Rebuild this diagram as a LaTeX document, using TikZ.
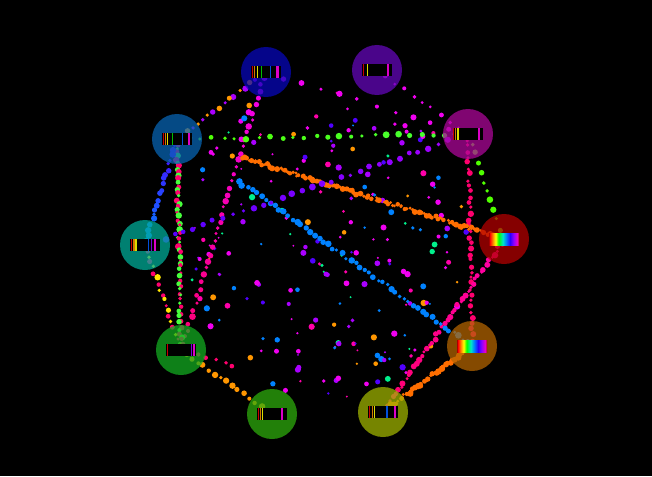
\documentclass[tikz,border=0pt]{standalone}
\usetikzlibrary{calc}
\pgfdeclarelayer{bgl}
\pgfdeclarelayer{dotl}
\pgfsetlayers{bgl,dotl,main}
% hub colours
\definecolor{nBlue}{RGB}{7,7,187}
\definecolor{nPur}{RGB}{100,7,187}
\definecolor{nMag}{RGB}{173,7,153}
\definecolor{nRed}{RGB}{180,0,0}
\definecolor{nBrn}{RGB}{180,100,0}
\definecolor{nOli}{RGB}{160,180,0}
\definecolor{nGrA}{RGB}{47,173,13}
\definecolor{nGrB}{RGB}{20,173,33}
\definecolor{nTea}{RGB}{0,173,153}
\definecolor{nTbl}{RGB}{7,100,180}
% dot colours
\definecolor{cM}{RGB}{240,0,240}
\definecolor{cV}{RGB}{170,0,255}
\definecolor{cB}{RGB}{80,0,255}
\definecolor{cA}{RGB}{0,130,255}
\definecolor{cO}{RGB}{255,150,0}
\definecolor{cOr}{RGB}{255,110,0}
\definecolor{cS}{RGB}{0,240,140}
\definecolor{cL}{RGB}{80,255,0}
\definecolor{cP}{RGB}{255,0,110}
\definecolor{cK}{RGB}{255,0,170}
\definecolor{cY}{RGB}{255,230,0}
\definecolor{cG}{RGB}{70,255,60}
% spectral line colours
\definecolor{sR}{RGB}{200,0,0}
\definecolor{sO}{RGB}{210,120,0}
\definecolor{sY}{RGB}{220,220,0}
\definecolor{sG}{RGB}{0,190,0}
\definecolor{sB}{RGB}{0,80,220}
\definecolor{sV}{RGB}{120,0,220}
\definecolor{sM}{RGB}{220,0,200}
% rainbow
\definecolor{rb0}{RGB}{170,0,0}
\definecolor{rb1}{RGB}{255,0,0}
\definecolor{rb2}{RGB}{255,150,0}
\definecolor{rb3}{RGB}{255,255,0}
\definecolor{rb4}{RGB}{0,255,0}
\definecolor{rb5}{RGB}{0,230,200}
\definecolor{rb6}{RGB}{0,120,255}
\definecolor{rb7}{RGB}{40,0,255}
\definecolor{rb8}{RGB}{140,0,255}
\definecolor{rb9}{RGB}{230,0,200}
\pgfdeclarehorizontalshading{rainbow}{100bp}{color(0bp)=(rb0); color(25bp)=(rb0); color(26.5bp)=(rb1); color(32bp)=(rb2); color(36bp)=(rb3); color(41bp)=(rb4); color(48bp)=(rb5); color(54bp)=(rb6); color(60bp)=(rb7); color(66bp)=(rb8); color(72bp)=(rb9); color(75bp)=(rb0); color(100bp)=(rb0)}
% gradient chain: from, to, n, colour A, colour B, radius
\newcommand\gchain[6]{%
  \foreach \ii in {1,...,#3}{%
    \pgfmathsetmacro\bT{\ii/(#3+1)}%
    \pgfmathtruncatemacro\bP{100*\bT}%
    \pgfmathsetmacro\bR{#6*(0.65+0.7*rnd)}%
    \pgfmathsetmacro\bX{1.5*rand}\pgfmathsetmacro\bY{1.5*rand}%
    \fill[#5!\bP!#4] ($(#1)!\bT!(#2)+(\bX,\bY)$) circle[radius=\bR];
  }}
% alternating chain
\newcommand\achain[6]{%
  \foreach \ii in {1,...,#3}{%
    \pgfmathsetmacro\bT{\ii/(#3+1)}%
    \pgfmathsetmacro\bR{#6*(0.65+0.7*rnd)}%
    \pgfmathsetmacro\bX{1.5*rand}\pgfmathsetmacro\bY{1.5*rand}%
    \ifodd\ii\def\bC{#4}\else\def\bC{#5}\fi
    \fill[\bC] ($(#1)!\bT!(#2)+(\bX,\bY)$) circle[radius=\bR];
  }}
\newcommand\spbar[1]{\fill[black] ($(#1)+(-15,-6)$) rectangle ($(#1)+(15,6)$);}
\newcommand\sline[4]{\fill[#3] ($(#1)+(-15+#2,-6)$) rectangle ($(#1)+(-15+#2+#4,6)$);}
\tikzset{hub/.style={circle,minimum size=50,inner sep=0,draw=none,fill opacity=0.74}}
\begin{document}
\begin{tikzpicture}[x=1pt,y=-1pt]
\begin{pgfonlayer}{bgl}
\fill[black] (0,0) rectangle (652,476);
\end{pgfonlayer}
\useasboundingbox (0,0) rectangle (652,476);
% hubs
\node[hub,fill=nBlue] (nb) at (266,72) {};
\node[hub,fill=nPur]  (np) at (377,70) {};
\node[hub,fill=nMag]  (nm) at (468,134) {};
\node[hub,fill=nRed]  (nr) at (504,239) {};
\node[hub,fill=nBrn]  (nn) at (472,346) {};
\node[hub,fill=nOli]  (no) at (383,412) {};
\node[hub,fill=nGrA]  (ng) at (272,414) {};
\node[hub,fill=nGrB]  (nh) at (181,350) {};
\node[hub,fill=nTea]  (nt) at (145,245) {};
\node[hub,fill=nTbl]  (nc) at (177,139) {};
\coordinate (o1) at (240,157);
\coordinate (o2) at (234,178);
\coordinate (hx) at (242,368);
\begin{pgfonlayer}{dotl}
\pgfmathsetseed{4242}
% random scattered dots
\foreach \k in {1,...,210}{%
  \pgfmathsetmacro\ang{360*rnd}%
  \pgfmathsetmacro\rad{sqrt(rnd)}%
  \pgfmathsetmacro\xx{327+145*\rad*cos(\ang)}%
  \pgfmathsetmacro\yy{240+160*\rad*sin(\ang)}%
  \pgfmathtruncatemacro\ci{mod(int(11*rnd),11)}%
  \pgfmathparse{{"cM","cM","cM","cV","cV","cB","cA","cA","cO","cS","cK"}[\ci]}\let\bC\pgfmathresult
  \pgfmathsetmacro\dr{1+2.2*rnd}%
  \fill[\bC] (\xx,\yy) circle[radius=\dr];
}
% chains
\gchain{nb}{nh}{40}{cM}{cP}{2.5}
\achain{nb}{nc}{16}{cO}{cV}{2.4}
\gchain{np}{nm}{9}{cM}{cM}{2.1}
\gchain{nb}{nm}{10}{cM}{cM}{2.4}
\gchain{nc}{nm}{24}{cL}{cG}{2.6}
\achain{nc}{nh}{62}{cG}{cP}{2.5}
\gchain{nc}{nt}{20}{cB}{cA}{2.5}
\achain{nt}{nh}{18}{cP}{cY}{2.4}
\gchain{nh}{ng}{15}{cO}{cO}{2.5}
\gchain{nh}{hx}{6}{cP}{cP}{2.4}
\gchain{nm}{nr}{10}{cL}{cL}{2.5}
\gchain{nm}{nn}{36}{cP}{cP}{2.5}
\gchain{nr}{no}{46}{cK}{cP}{2.4}
\gchain{nn}{no}{40}{cOr}{cOr}{2.4}
\gchain{o1}{nr}{110}{cOr}{cOr}{2.2}
\gchain{o2}{nn}{52}{cA}{cA}{2.5}
\gchain{nt}{nm}{32}{cB}{cV}{2.6}
\end{pgfonlayer}
% spectral bars
\spbar{nb}
\sline{nb}{0.7}{sR}{1.3}\sline{nb}{2.7}{sO}{1.3}\sline{nb}{6}{sY}{1.3}\sline{nb}{10}{sG}{1.3}\sline{nb}{18.7}{sB}{1.2}\sline{nb}{25}{sM}{2.5}
\spbar{np}
\sline{np}{0.7}{sR}{1.3}\sline{np}{4.5}{sY}{1.3}\sline{np}{25}{sM}{1.5}
\spbar{nm}
\sline{nm}{0}{sR}{1.3}\sline{nm}{2}{sO}{1.3}\sline{nm}{4}{sY}{1.5}\sline{nm}{25}{sM}{2}
\shade[shading=rainbow] ($(nr)+(-15,-6)$) rectangle ($(nr)+(15,6)$);
\shade[shading=rainbow] ($(nn)+(-15,-6)$) rectangle ($(nn)+(15,6)$);
\spbar{no}
\sline{no}{1}{sR}{1.3}\sline{no}{4}{sO}{1.3}\sline{no}{6}{sY}{1.3}\sline{no}{18}{sB}{2}\sline{no}{26}{sM}{1.5}
\spbar{ng}
\sline{ng}{0.7}{sR}{1.3}\sline{ng}{3}{sO}{1.3}\sline{ng}{5}{sY}{1.3}\sline{ng}{24}{sM}{1.5}
\spbar{nh}
\sline{nh}{0.7}{sR}{1.3}\sline{nh}{25}{sV}{1.3}\sline{nh}{27}{sM}{1.5}
\spbar{nt}
\sline{nt}{0.7}{sR}{1.3}\sline{nt}{3.3}{sO}{1.3}\sline{nt}{5.3}{sY}{1.3}\sline{nt}{18}{sB}{1.3}\sline{nt}{21}{sV}{1.3}\sline{nt}{24}{sM}{1.5}
\spbar{nc}
\sline{nc}{0.5}{sR}{1.3}\sline{nc}{3}{sO}{1.3}\sline{nc}{5}{sY}{1.3}\sline{nc}{10}{sG}{1.3}\sline{nc}{20}{sB}{1.3}\sline{nc}{26}{sM}{1.5}
\end{tikzpicture}
\end{document}
